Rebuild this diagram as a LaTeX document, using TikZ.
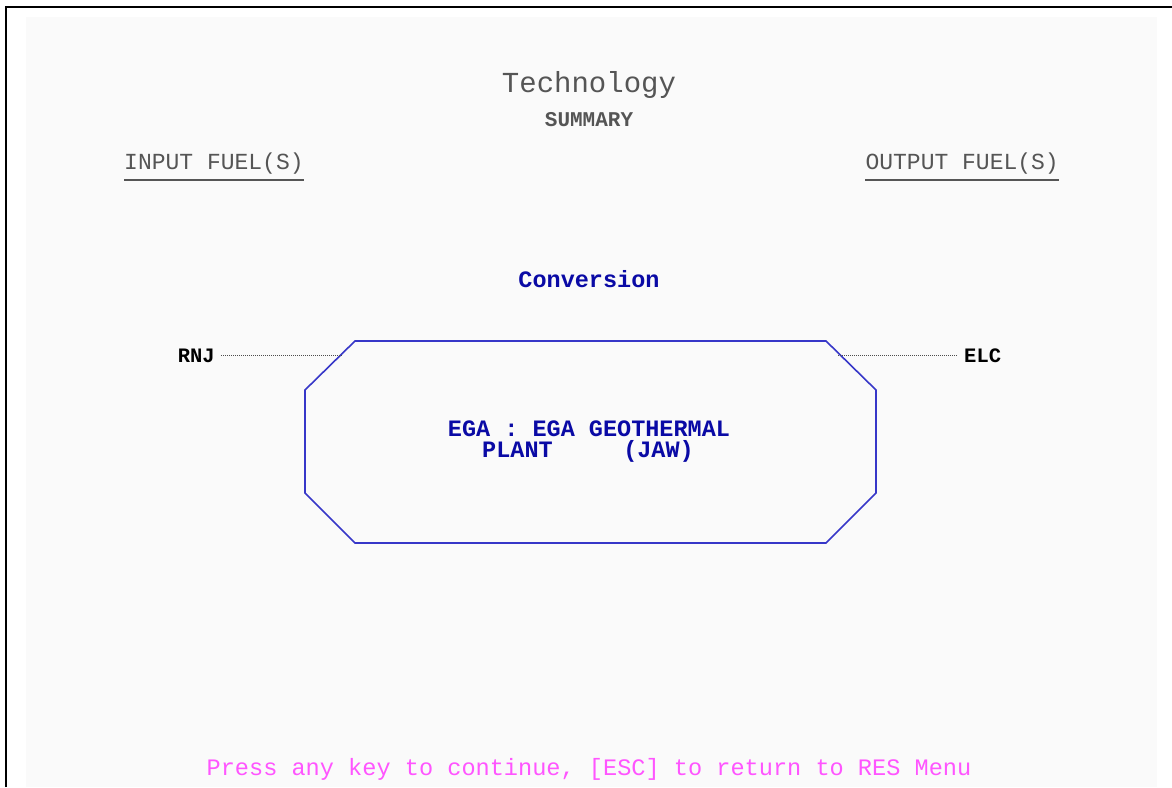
\documentclass[tikz,border=0pt]{standalone}
\usepackage{fontspec}
\setmonofont{Liberation Mono}

\definecolor{screenbg}{RGB}{250,250,250}
\definecolor{dimgray}{RGB}{85,85,85}
\definecolor{resblue}{RGB}{10,10,165}
\definecolor{octblue}{RGB}{55,55,200}
\definecolor{resmagenta}{RGB}{255,85,255}

\tikzset{
  titletxt/.style={text=dimgray, inner sep=0, font=\ttfamily\fontsize{29}{29}\selectfont},
  headtxt/.style={text=dimgray, inner sep=0, font=\ttfamily\bfseries\fontsize{21}{21}\selectfont},
  coltxt/.style={text=dimgray, inner sep=0, font=\ttfamily\fontsize{23}{23}\selectfont},
  bluetxt/.style={text=resblue, inner sep=0, font=\ttfamily\bfseries\fontsize{23.5}{21}\selectfont},
  fueltxt/.style={text=black, inner xsep=6pt, inner ysep=0, font=\ttfamily\bfseries\fontsize{20.5}{20.5}\selectfont},
  hinttxt/.style={text=resmagenta, inner sep=0, font=\ttfamily\fontsize{23.6}{23.6}\selectfont},
  ruleline/.style={draw=dimgray, line width=1.8pt},
  octline/.style={draw=octblue, line width=1.6pt},
  fuelline/.style={draw=black!70, line width=1.2pt, dash pattern=on 1pt off 1pt}
}

\begin{document}
\begin{tikzpicture}[x=1pt,y=-1pt]
    \useasboundingbox (0,0) rectangle (1172,787);
    \fill[screenbg] (26,17) rectangle (1157,787);
    \draw[line width=2.8pt] (6,787) -- (6,7) -- (1172,7);

    % headings
    \node[titletxt, anchor=base] (title) at (589,92) {Technology};
    \node[headtxt, anchor=base] (summary) at (589,126) {SUMMARY};
    \node[coltxt, anchor=base west] (infuel) at (124,169) {INPUT FUEL(S)};
    \node[coltxt, anchor=base east] (outfuel) at (1059,169) {OUTPUT FUEL(S)};
    \draw[ruleline] ([yshift=-11pt]infuel.base west) -- ([yshift=-11pt]infuel.base east);
    \draw[ruleline] ([yshift=-11pt]outfuel.base west) -- ([yshift=-11pt]outfuel.base east);

    \node[bluetxt, anchor=base] (conv) at (589,287) {Conversion};

    % process box
    \coordinate (A) at (355,341);
    \coordinate (B) at (826,341);
    \coordinate (C) at (876,390);
    \coordinate (D) at (876,493);
    \coordinate (E) at (826,543);
    \coordinate (F) at (355,543);
    \coordinate (G) at (305,493);
    \coordinate (H) at (305,390);
    \draw[octline] (A) -- (B) -- (C) -- (D) -- (E) -- (F) -- (G) -- (H) -- cycle;

    \node[bluetxt, anchor=base] (proc) at (589,436) {EGA : EGA GEOTHERMAL};
    \node[bluetxt, anchor=base] (procb) at (588,457) {PLANT\ \ \ \ \ (JAW)};

    % fuels
    \coordinate (inL) at (343,353);
    \coordinate (outR) at (838,353);
    \node[fueltxt, anchor=base east] (rnj) at (221,362) {RNJ};
    \node[fueltxt, anchor=base west] (elc) at (958,362) {ELC};
    \draw[fuelline] (rnj.east) -- (rnj.east -| inL);
    \draw[fuelline] (elc.west -| outR) -- (elc.west);

    \node[hinttxt, anchor=base] (hint) at (589,775) {Press any key to continue, [ESC] to return to RES Menu};
  \end{tikzpicture}
\end{document}
